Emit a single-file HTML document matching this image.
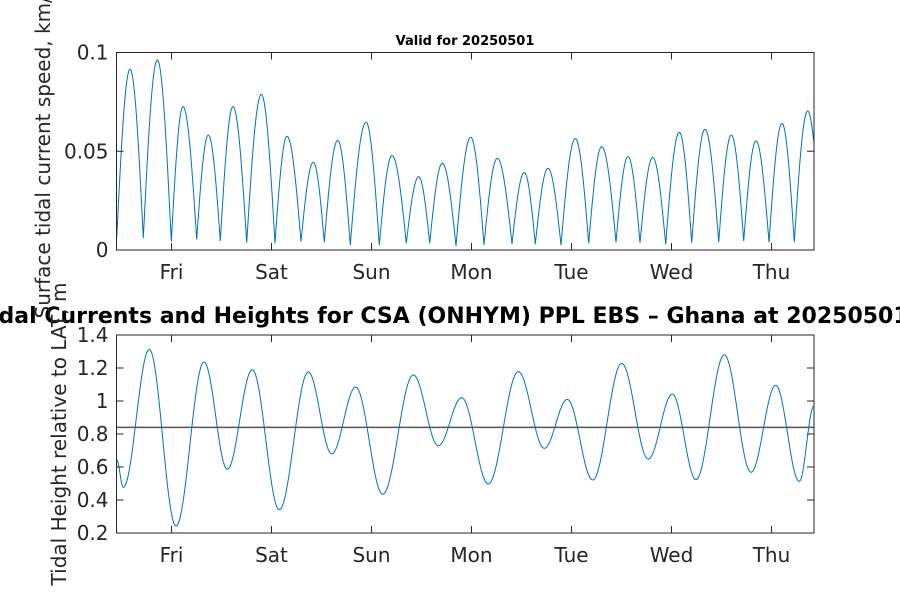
<!DOCTYPE html>
<html><head><meta charset="utf-8"><style>
body{margin:0;background:#fff}
svg{display:block;font-family:"DejaVu Sans","Liberation Sans",sans-serif}
</style></head><body>
<svg id="chart" width="900" height="600" viewBox="0 0 900 600">
<rect width="900" height="600" fill="#fff"/>
<text x="465" y="45" font-size="13" font-weight="bold" text-anchor="middle">Valid for 20250501</text>
<text x="-24" y="323" font-size="22" font-weight="bold">Tidal Currents and Heights for CSA (ONHYM) PPL EBS  – Ghana at 20250501</text>
<text transform="translate(50,151) rotate(-90)" font-size="20" fill="#262626" text-anchor="middle">Surface tidal current speed, km/h</text>
<text transform="translate(66,434) rotate(-90)" font-size="20" fill="#262626" text-anchor="middle">Tidal Height relative to LAT, m</text>
<g id="top"></g>
<g id="bot"></g>
</svg>
<script>
// days relative to Friday 00:00
const dayLabels = ["Fri","Sat","Sun","Mon","Tue","Wed","Thu"];
const speedTimes = [-0.548,-0.415,-0.282,-0.142,-0.002,0.115,0.252,0.368,0.488,0.615,0.752,0.898,1.035,1.155,1.295,1.418,1.528,1.662,1.788,1.945,2.078,2.205,2.348,2.472,2.582,2.708,2.845,2.992,3.125,3.258,3.405,3.528,3.638,3.765,3.895,4.038,4.172,4.302,4.445,4.565,4.685,4.812,4.942,5.078,5.202,5.335,5.472,5.598,5.722,5.845,5.975,6.105,6.228,6.362,6.435];
const speedValues = [0.006,0.0915,0.006,0.0962,0.0042,0.0726,0.0054,0.0582,0.0046,0.0726,0.0037,0.0788,0.0034,0.0576,0.0042,0.0444,0.0039,0.0555,0.0025,0.0647,0.0025,0.0478,0.0034,0.0371,0.0034,0.0439,0.002,0.0571,0.0025,0.0464,0.003,0.0392,0.003,0.0414,0.0025,0.0564,0.0034,0.0523,0.0039,0.0473,0.0037,0.0468,0.0029,0.0596,0.0037,0.0611,0.0039,0.0582,0.0046,0.0552,0.0039,0.0641,0.0039,0.0704,0.0498];
const heightTimes = [-0.548,-0.482,-0.222,0.045,0.325,0.558,0.808,1.078,1.368,1.602,1.842,2.112,2.418,2.668,2.902,3.168,3.468,3.728,3.958,4.212,4.502,4.768,5.008,5.245,5.528,5.795,6.042,6.278,6.425];
const heightValues = [0.642,0.477,1.313,0.242,1.236,0.586,1.19,0.341,1.176,0.68,1.085,0.435,1.158,0.729,1.02,0.497,1.178,0.713,1.01,0.521,1.228,0.648,1.042,0.523,1.28,0.568,1.095,0.513,0.97];
const meanLevel = [0.84];
const speedTicks = [0,0.05,0.1];
const speedTickLabels = ["0","0.05","0.1"];
const heightTicks = [0.2,0.4,0.6,0.8,1,1.2,1.4];
const heightTickLabels = ["0.2","0.4","0.6","0.8","1","1.2","1.4"];

const NS="http://www.w3.org/2000/svg";
const X0=116.5,X1=814,T0=-0.55,T1=6.425;
const xs=t=>X0+(t-T0)/(T1-T0)*(X1-X0);
function mk(tag,attrs,parent){const e=document.createElementNS(NS,tag);for(const k in attrs)e.setAttribute(k,attrs[k]);parent.appendChild(e);return e;}

function panel(g,yTop,yBot,vmin,vmax,ticks,labels,times,vals,mode,name){
  const ys=v=>yBot-(v-vmin)/(vmax-vmin)*(yBot-yTop);
  // curve
  let d="";
  for(let i=0;i<times.length-1;i++){
    const ta=times[i],tb=times[i+1],va=vals[i],vb=vals[i+1];
    const n=24;
    for(let k=(i===0?0:1);k<=n;k++){
      const u=k/n;let f;
      if(mode==="speed"){f = vb>va ? Math.sin(u*Math.PI/2) : 1-Math.cos(u*Math.PI/2);}
      else f=(1-Math.cos(u*Math.PI))/2;
      const t=ta+(tb-ta)*u,v=va+(vb-va)*f;
      d+=(d?"L":"M")+xs(t).toFixed(2)+","+ys(v).toFixed(2);
    }
  }
  const clip=mk("clipPath",{id:"clip-"+name},g);
  mk("rect",{x:X0,y:yTop,width:X1-X0,height:yBot-yTop},clip);
  if(mode==="height"){
    for(const m of meanLevel){
      const l=mk("line",{x1:X0,x2:X1,y1:ys(m),y2:ys(m),stroke:"#555",'stroke-width':1.5},g);
      
      
    }
  }
  const p=mk("path",{d:d,fill:"none",stroke:"#0072BD","stroke-width":1,"clip-path":"url(#clip-"+name+")"},g);
  
  
  // box
  const b=mk("rect",{x:X0,y:yTop,width:X1-X0,height:yBot-yTop,fill:"none",stroke:"#262626","stroke-width":1},g);
  
  
  // y ticks
  ticks.forEach((v,i)=>{
    const y=ys(v);
    mk("line",{x1:X0,x2:X0+7,y1:y,y2:y,stroke:"#262626"},g);
    mk("line",{x1:X1,x2:X1-7,y1:y,y2:y,stroke:"#262626"},g);
    const t=mk("text",{x:X0-8,y:y+7,"font-size":20,fill:"#262626","text-anchor":"end"},g);
    t.textContent=labels[i];
    
    
  });
  // x ticks
  dayLabels.forEach((lab,i)=>{
    const x=xs(i);
    mk("line",{x1:x,x2:x,y1:yBot,y2:yBot-7,stroke:"#262626"},g);
    mk("line",{x1:x,x2:x,y1:yTop,y2:yTop+7,stroke:"#262626"},g);
    const t=mk("text",{x:x,y:yBot+29,"font-size":20,fill:"#262626","text-anchor":"middle"},g);
    t.textContent=lab;
    
    
  });
}
panel(document.getElementById("top"),52.5,250,0,0.1,speedTicks,speedTickLabels,speedTimes,speedValues,"speed","current-speed");
panel(document.getElementById("bot"),335,533,0.2,1.4,heightTicks,heightTickLabels,heightTimes,heightValues,"height","tide-height");
</script>
</body></html>
